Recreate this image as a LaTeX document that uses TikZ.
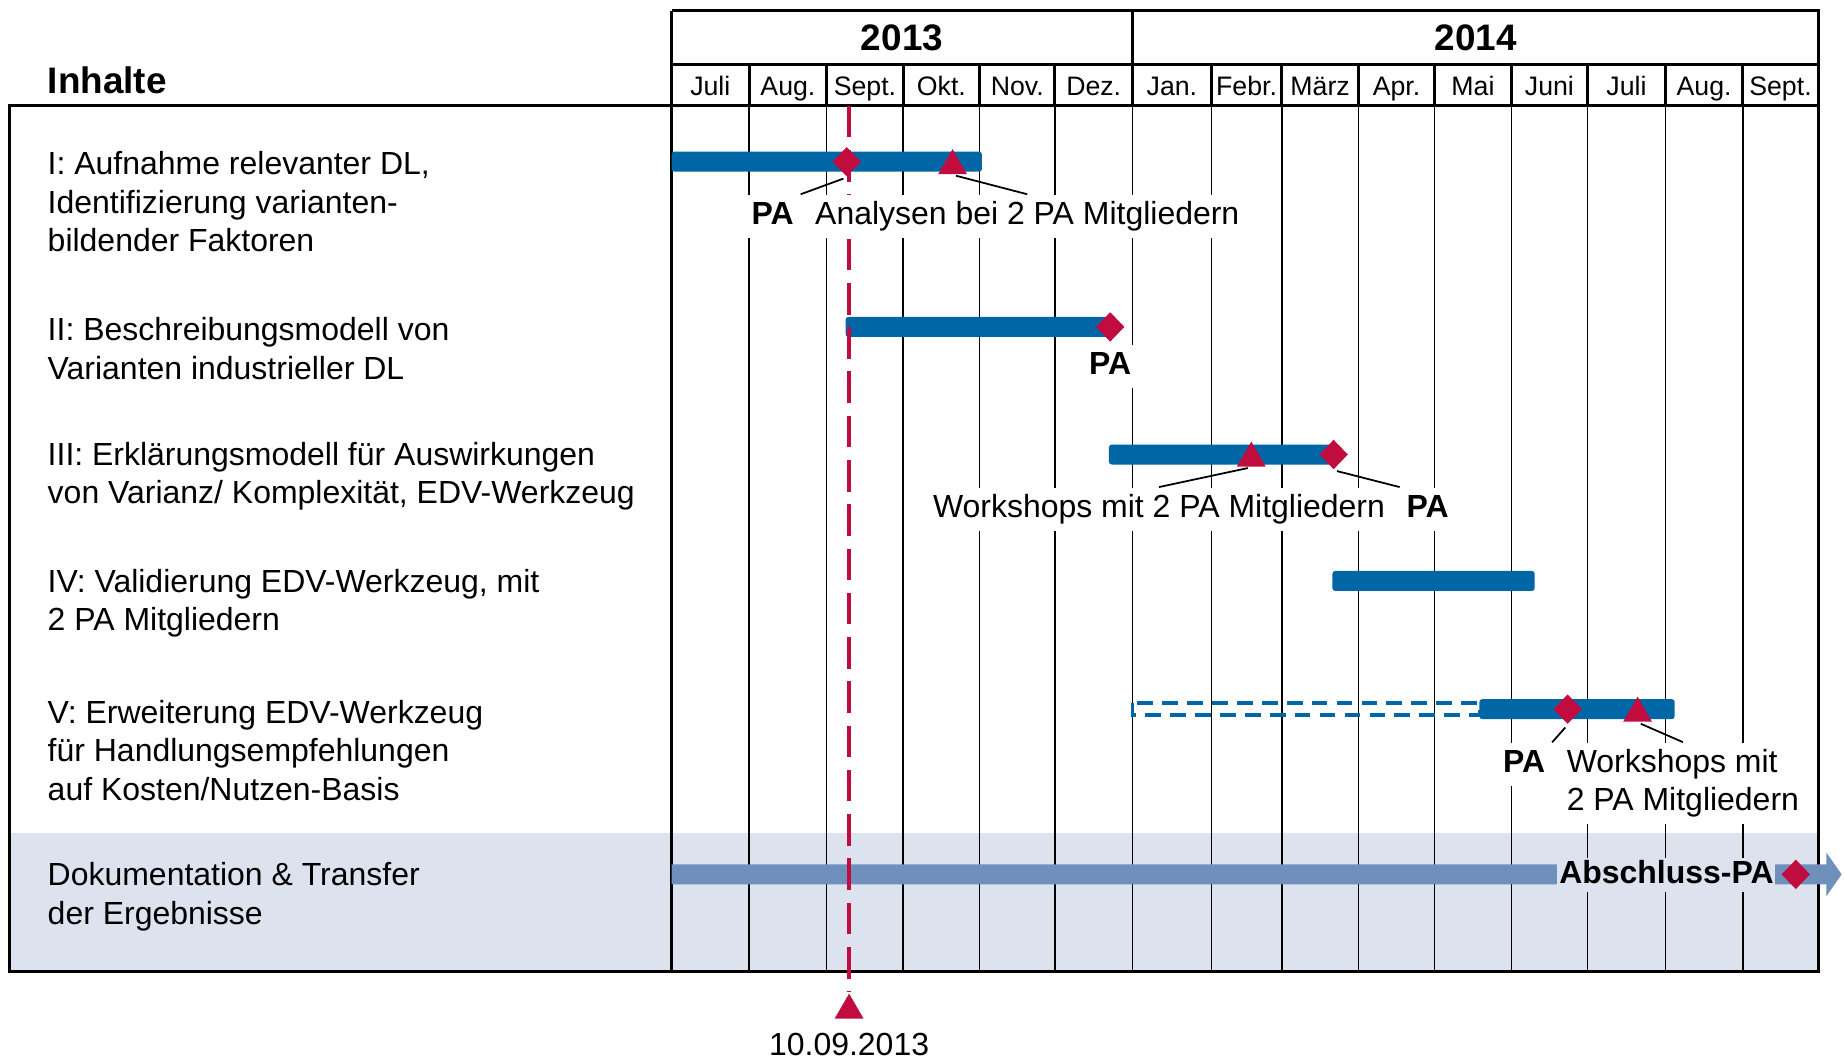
\documentclass[tikz,border=0pt]{standalone}
\usepackage{fontspec}
\setmainfont{Liberation Sans}
\usetikzlibrary{shapes.geometric}

\definecolor{barblue}{RGB}{0,102,166}
\definecolor{pared}{RGB}{192,12,62}
\definecolor{docblue}{RGB}{111,143,188}
\definecolor{bandgray}{RGB}{221,227,238}

\tikzset{
    frame/.style={line width=0.8pt},
    gridline/.style={line width=0.4pt},
    bar/.style={fill=barblue, rounded corners=0.8pt},
    planbar/.style={draw=barblue, line width=1.1pt, dash pattern=on 4.5pt off 2.6pt},
    dateline/.style={pared, line width=1.15pt, dash pattern=on 9pt off 3.6pt},
    milestone/.style={diamond, fill=pared, inner sep=0pt, minimum width=0.29cm, minimum height=0.3cm},
    workshop/.style={regular polygon, regular polygon sides=3, fill=pared, inner sep=0pt, minimum size=0.333cm},
    lead/.style={line width=0.5pt, shorten <=1pt},
    content/.style={anchor=west, align=left, inner sep=0pt, font=\fontsize{9.1}{10.9}\selectfont},
    note/.style={fill=white, inner sep=1.8pt, text height=6.6pt, text depth=2pt, font=\fontsize{9.1}{10.9}\selectfont},
    panote/.style={note, font=\fontsize{9.1}{10.9}\selectfont\bfseries},
    month/.style={text height=5.6pt, text depth=1.6pt, font=\fontsize{7.6}{9}\selectfont},
    year/.style={font=\fontsize{10.5}{12}\selectfont\bfseries}
}

\begin{document}
\begin{tikzpicture}[x=0.01176cm, y=-0.01176cm]
    \useasboundingbox (0,0) rectangle (1568,900);

    % band for documentation row
    \fill[bandgray] (8,708) rectangle (1546,826);

    % month lines
    \draw[gridline] (637,90) -- (637,826) (703,90) -- (703,826) (768,90) -- (768,826)
        (833,90) -- (833,826) (897,90) -- (897,826) (963,90) -- (963,826)
        (1030,90) -- (1030,826) (1090,90) -- (1090,826) (1155,90) -- (1155,826)
        (1220,90) -- (1220,826) (1285,90) -- (1285,826) (1350,90) -- (1350,826)
        (1416,90) -- (1416,826) (1482,90) -- (1482,826);
    \draw[frame] (637,55) -- (637,90) (703,55) -- (703,90) (768,55) -- (768,90)
        (833,55) -- (833,90) (897,55) -- (897,90) (963,9) -- (963,90)
        (1030,55) -- (1030,90) (1090,55) -- (1090,90) (1155,55) -- (1155,90)
        (1220,55) -- (1220,90) (1285,55) -- (1285,90) (1350,55) -- (1350,90)
        (1416,55) -- (1416,90) (1482,55) -- (1482,90);

    % frame
    \draw[frame] (571,9) -- (1546,9) -- (1546,826) -- (8,826) -- (8,90) -- (1546,90);
    \draw[frame] (571,55) -- (1546,55);
    \draw[frame] (571,9) -- (571,826);

    % header
    \node[year, anchor=west, inner sep=0pt] (inhalte) at (40,68) {Inhalte};
    \node[year] (y13) at (767,32) {2013};
    \node[year] (y14) at (1255,32) {2014};
    \node[month] (m1) at (604,75) {Juli};
    \node[month] (m2) at (670,75) {Aug.};
    \node[month] (m3) at (735.5,75) {Sept.};
    \node[month] (m4) at (800.5,75) {Okt.};
    \node[month] (m5) at (865,75) {Nov.};
    \node[month] (m6) at (930,75) {Dez.};
    \node[month] (m7) at (996.5,75) {Jan.};
    \node[month] (m8) at (1060,75) {Febr.};
    \node[month] (m9) at (1122.5,75) {März};
    \node[month] (m10) at (1187.5,75) {Apr.};
    \node[month] (m11) at (1252.5,75) {Mai};
    \node[month] (m12) at (1317.5,75) {Juni};
    \node[month] (m13) at (1383,75) {Juli};
    \node[month] (m14) at (1449,75) {Aug.};
    \node[month] (m15) at (1514,75) {Sept.};

    % contents
    \node[content] (cI) at (40,171.5) {I: Aufnahme relevanter DL,\\Identifizierung varianten-\\bildender Faktoren};
    \node[content] (cII) at (40,296.5) {II: Beschreibungsmodell von\\Varianten industrieller DL};
    \node[content] (cIII) at (40,405) {III: Erklärungsmodell für Auswirkungen\\von Varianz/ Komplexität, EDV-Werkzeug};
    \node[content] (cIV) at (40,513) {IV: Validierung EDV-Werkzeug, mit\\2 PA Mitgliedern};
    \node[content] (cV) at (40,638) {V: Erweiterung EDV-Werkzeug\\für Handlungsempfehlungen\\auf Kosten/Nutzen-Basis};
    \node[content] (cdoc) at (40,762.5) {Dokumentation \& Transfer\\der Ergebnisse};

    % bars
    \fill[bar] (571,129) rectangle (835,146);
    \fill[bar] (719,269.5) rectangle (944,286.5);
    \fill[bar] (943,378) rectangle (1135,395);
    \fill[bar] (1133,485.5) rectangle (1305,502.5);
    \draw[planbar] (963,597.7) rectangle (1258,608.3);
    \fill[bar] (1258,594.5) rectangle (1424,611.5);
    \fill[docblue] (571,735) -- (1553,735) -- (1553,725) -- (1566,743.5)
        -- (1553,762) -- (1553,752) -- (571,752) -- cycle;

    % date line
    \coordinate (dtop) at (722,90);
    \node[workshop] (dt) at (722,859) {};
    \draw[dateline] (dtop) -- (dt.north);
    \node[font=\fontsize{9.1}{10.9}\selectfont] (dtxt) at (722,888) {10.09.2013};

    % markers
    \node[milestone] (dI) at (720,137.5) {};
    \node[workshop] (tI) at (810,141) {};
    \node[milestone] (dII) at (944,278) {};
    \node[workshop] (tIII) at (1064,389.7) {};
    \node[milestone] (dIII) at (1134,386.5) {};
    \node[milestone] (dV) at (1333,603) {};
    \node[workshop] (tV) at (1392.5,606.6) {};

    % notes
    \node[panote] (paI) at (657,184) {PA};
    \node[note] (anI) at (873.5,184) {Analysen bei 2 PA Mitgliedern};
    \node[panote] (paII) at (944,312) {PA};
    \node[note] (wsIII) at (985.5,433) {Workshops mit 2 PA Mitgliedern};
    \node[panote] (paIII) at (1214,433) {PA};
    \node[panote] (paV) at (1296,650) {PA};
    \node[note, align=left, text height=, text depth=] (wsV) at (1431,666) {Workshops mit\\2 PA Mitgliedern};
    \node[panote, fill=bandgray, inner sep=0.5pt] (abschluss) at (1417,744) {Abschluss-PA};
    \node[milestone] (dend) at (1527,743.5) {};

    \draw[lead] (dI.south) -- (paI.north east);
    \draw[lead] (tI.south) -- (anI.north);
    \draw[lead] (tIII.south) -- (wsIII.north);
    \draw[lead] (dIII.south) -- (paIII.north west);
    \draw[lead] (dV.south) -- (paV.north east);
    \draw[lead] (tV.south) -- (wsV.north);
\end{tikzpicture}
\end{document}
